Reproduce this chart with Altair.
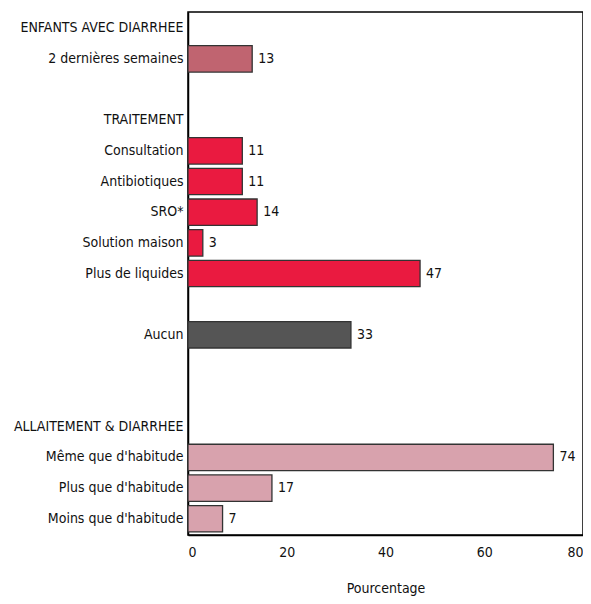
import altair as alt
import pandas as pd

categories = ["ENFANTS AVEC DIARRHEE", "2 dernières semaines", " ", "TRAITEMENT",
              "Consultation", "Antibiotiques", "SRO*", "Solution maison", "Plus de liquides",
              "  ", "Aucun", "   ", "    ", "ALLAITEMENT & DIARRHEE",
              "Même que d'habitude", "Plus que d'habitude", "Moins que d'habitude"]

bar_cats = ["2 dernières semaines", "Consultation", "Antibiotiques", "SRO*", "Solution maison",
            "Plus de liquides", "Aucun", "Même que d'habitude", "Plus que d'habitude",
            "Moins que d'habitude"]
values = [13, 11, 11, 14, 3, 47, 33, 74, 17, 7]
groups = ["enfants", "traitement", "traitement", "traitement", "traitement",
          "traitement", "aucun", "allaitement", "allaitement", "allaitement"]

group_names = ["enfants", "traitement", "aucun", "allaitement"]
group_colors = ["#c06470", "#ea1a40", "#555555", "#d8a2ad"]

df = pd.DataFrame({"cat": bar_cats, "val": values, "grp": groups})

FONT = "DejaVu Sans Condensed"
FS = 14

y = alt.Y("cat:N", sort=categories, scale=alt.Scale(domain=categories, paddingInner=0.14, paddingOuter=0.1),
          axis=alt.Axis(title=None, ticks=False, domain=True, domainColor="#000", domainWidth=1.5,
                        labelPadding=5, labelFontSize=FS, labelFont=FONT, labelColor="#111",
                        labelLimit=300))

bars = alt.Chart(df).mark_bar(stroke="#333", strokeWidth=1.3).encode(
    x=alt.X("val:Q", scale=alt.Scale(domain=[0, 80]),
            axis=alt.Axis(values=[0, 20, 40, 60, 80], ticks=False, grid=False, domainColor="#000",
                          domainWidth=1.5, labelPadding=10, labelFontSize=FS, labelFont=FONT,
                          labelColor="#111", title="Pourcentage", titleFont=FONT, titleFontSize=FS,
                          titleFontWeight="normal", titlePadding=22, titleColor="#111")),
    y=y,
    color=alt.Color("grp:N", scale=alt.Scale(domain=group_names, range=group_colors), legend=None),
)

text = alt.Chart(df).mark_text(align="left", dx=6, fontSize=FS, font=FONT, color="#111").encode(
    x="val:Q", y=alt.Y("cat:N", sort=categories), text="val:Q"
)

chart = (bars + text).properties(
    width=395, height=523,
    autosize=alt.AutoSizeParams(type="none"),
    padding={"left": 180, "top": 4, "right": 0, "bottom": 73},
).configure_view(stroke="#000", strokeWidth=1.5)

chart.save("out.html", embed_options={"renderer": "svg", "actions": False})
